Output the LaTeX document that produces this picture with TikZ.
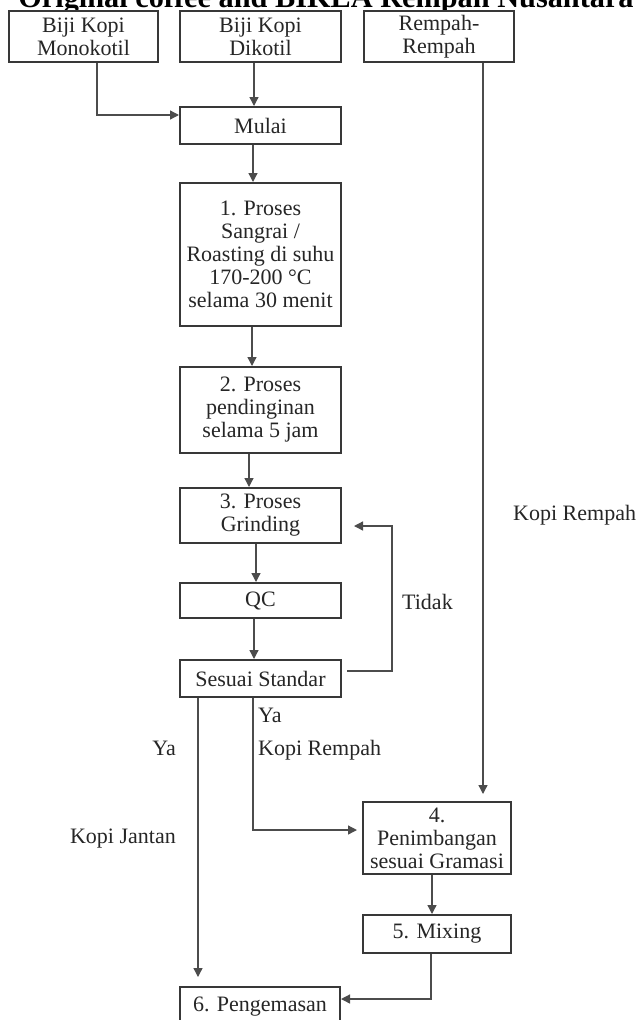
\documentclass[tikz,border=0pt]{standalone}
\usepackage{fontspec}
\setmainfont{Liberation Serif}
\usetikzlibrary{arrows.meta}
\begin{document}
\begin{tikzpicture}[x=1pt,y=-1pt,
  box/.style={draw=black!78, line width=2pt, fill=white, text=black!85, align=center,
    inner sep=0pt, font=\fontsize{22}{23}\selectfont},
  conn/.style={draw=black!70, line width=1.3pt, -{Triangle[width=9pt,length=9pt]}},
  lbl/.style={text=black!85, inner sep=0pt, font=\fontsize{22}{23}\selectfont}]
\useasboundingbox (0,0) rectangle (641,1020);
\node[font=\bfseries\fontsize{30.3}{32}\selectfont, anchor=base, text=black, inner sep=0pt]
  (title) at (326,7) {Original coffee and BIKEA Rempah Nusantara};
% boxes
\node[box, minimum width=149pt, minimum height=51pt] (A) at (83.5,36.5) {Biji Kopi\\Monokotil};
\node[box, minimum width=161pt, minimum height=51pt] (B) at (260.5,36.5) {Biji Kopi\\Dikotil};
\node[box, minimum width=150pt, minimum height=51pt] (C) at (439,36.5) {Rempah-\\Rempah};
\node[box, minimum width=161pt, minimum height=37pt] (mulai) at (260.5,125.5) {Mulai};
\node[box, minimum width=161pt, minimum height=143pt] (p1) at (260.5,254.5)
  {1. Proses\\Sangrai /\\Roasting di suhu\\170-200 °C\\selama 30 menit};
\node[box, minimum width=161pt, minimum height=86pt] (p2) at (260.5,410)
  {2. Proses\\pendinginan\\selama 5 jam};
\node[box, minimum width=161pt, minimum height=55pt] (p3) at (260.5,515.5)
  {3. Proses\\Grinding};
\node[box, minimum width=161pt, minimum height=35pt] (qc) at (260.5,600.5) {QC};
\node[box, minimum width=161pt, minimum height=37pt] (ss) at (260.5,678.5) {Sesuai Standar};
\node[box, minimum width=148pt, minimum height=72pt] (p4) at (437,838)
  {4.\\Penimbangan\\sesuai Gramasi};
\node[box, minimum width=148pt, minimum height=38pt] (p5) at (437,934) {5. Mixing};
\node[box, minimum width=160pt, minimum height=40pt] (p6) at (260,1007) {6. Pengemasan};
% helper coordinates
\coordinate (xA) at (97,115);
\coordinate (xB) at (254,0);
\coordinate (x1) at (253,0);
\coordinate (x2) at (252,0);
\coordinate (x3) at (249,0);
\coordinate (x4) at (256,0);
\coordinate (x5) at (254,0);
\coordinate (tR) at (392,671);
\coordinate (tT) at (392,526);
\coordinate (yaJ) at (198,0);
\coordinate (yaR) at (253,830);
\coordinate (xC) at (483,0);
\coordinate (x45) at (432,0);
\coordinate (mixD) at (431,999);
% connectors
\draw[conn] (A.south -| xA) -- (xA) -- (mulai.west |- xA);
\draw[conn] (B.south -| xB) -- (mulai.north -| xB);
\draw[conn] (mulai.south -| x1) -- (p1.north -| x1);
\draw[conn] (p1.south -| x2) -- (p2.north -| x2);
\draw[conn] (p2.south -| x3) -- (p3.north -| x3);
\draw[conn] (p3.south -| x4) -- (qc.north -| x4);
\draw[conn] (qc.south -| x5) -- (ss.north -| x5);
\draw[conn, shorten <=5pt, shorten >=12pt] (ss.east |- tR) -- (tR) -- (tT) -- (p3.east |- tT);
\draw[conn, shorten >=9pt] (ss.south -| yaJ) -- (p6.north -| yaJ);
\draw[conn, shorten >=5pt] (ss.south -| yaR) -- (yaR) -- (p4.west |- yaR);
\draw[conn, shorten >=7pt] (C.south -| xC) -- (p4.north -| xC);
\draw[conn] (p4.south -| x45) -- (p5.north -| x45);
\draw[conn] (p5.south -| mixD) -- (mixD) -- (p6.east |- mixD);
% labels
\node[lbl, anchor=base west] (lkr1) at (513,520) {Kopi Rempah};
\node[lbl, anchor=base west] (ltidak) at (402,609) {Tidak};
\node[lbl, anchor=base west] (lya1) at (258,722) {Ya};
\node[lbl, anchor=base west] (lkr2) at (258,755) {Kopi Rempah};
\node[lbl, anchor=base east] (lya2) at (176,755) {Ya};
\node[lbl, anchor=base east] (lkj) at (176,843) {Kopi Jantan};
\end{tikzpicture}
\end{document}
